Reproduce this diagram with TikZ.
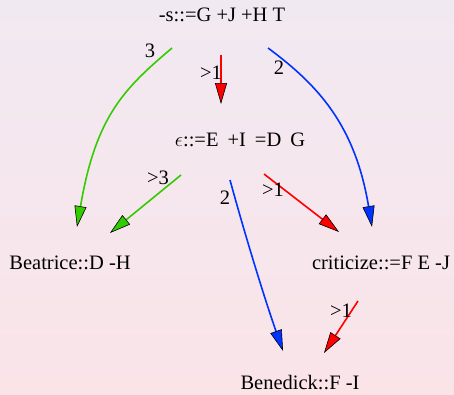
\documentclass[tikz,border=0pt]{standalone}
\usepackage{fontspec}
\setmainfont{Liberation Serif}
\usetikzlibrary{arrows.meta}
\definecolor{bgtop}{RGB}{241,233,242}
\definecolor{bgbot}{RGB}{250,228,232}
\definecolor{eg}{RGB}{51,204,0}
\definecolor{eb}{RGB}{0,51,255}
\definecolor{er}{RGB}{255,0,0}
\tikzset{
  lbl/.style={inner sep=0pt, font=\fontsize{20.5}{20.5}\selectfont},
  wd/.style={inner sep=0pt, font=\fontsize{20.5}{20.5}\selectfont},
  edge/.style={line width=1.6pt, -{Triangle[length=21pt,width=12pt,color=black,fill=#1,line width=0.6pt]}, draw=#1},
}
\begin{document}
\begin{tikzpicture}[x=1pt,y=-1pt]
\shade[top color=bgtop,bottom color=bgbot] (0,0) rectangle (454,394);
\useasboundingbox (0,0) rectangle (454,394);
% nodes
\node[wd] (s) at (222,15) {-s::=G +J +H T};
\node[wd] (eps) at (240,140) {$\epsilon$::=E\hspace{9pt}+I\hspace{9pt}=D\hspace{9pt}G};
\node[wd] (bea) at (70,263) {Beatrice::D -H};
\node[wd] (cri) at (381,263) {criticize::=F E -J};
\node[wd] (ben) at (300,383) {Benedick::F -I};
% free ends
\coordinate (a1) at (172,48);  \coordinate (b1) at (77,227);
\coordinate (a2) at (221,55);  \coordinate (b2) at (221,104);
\coordinate (a3) at (268,48);  \coordinate (b3) at (372,227);
\coordinate (a4) at (181,175); \coordinate (b4) at (110,233);
\coordinate (a5) at (230,180); \coordinate (b5) at (283,351);
\coordinate (a6) at (264,174); \coordinate (b6) at (339,232);
\coordinate (a7) at (358,301); \coordinate (b7) at (324,353);
% edges
\draw[edge=eg] (a1) .. controls (125,88) and (96,115) .. (b1);
\draw[edge=er] (a2) -- (b2);
\draw[edge=eb] (a3) .. controls (318,85) and (355,125) .. (b3);
\draw[edge=eg] (a4) -- (b4);
\draw[edge=eb] (a5) .. controls (245,235) and (265,300) .. (b5);
\draw[edge=er] (a6) -- (b6);
\draw[edge=er] (a7) -- (b7);
% labels
\node[lbl] (l1) at (150,51) {3};
\node[lbl] (l2) at (211,73) {>1};
\node[lbl] (l3) at (279,68) {2};
\node[lbl] (l4) at (158,178) {>3};
\node[lbl] (l5) at (225,198) {2};
\node[lbl] (l6) at (273,190) {>1};
\node[lbl] (l7) at (341,311) {>1};
\end{tikzpicture}
\end{document}
